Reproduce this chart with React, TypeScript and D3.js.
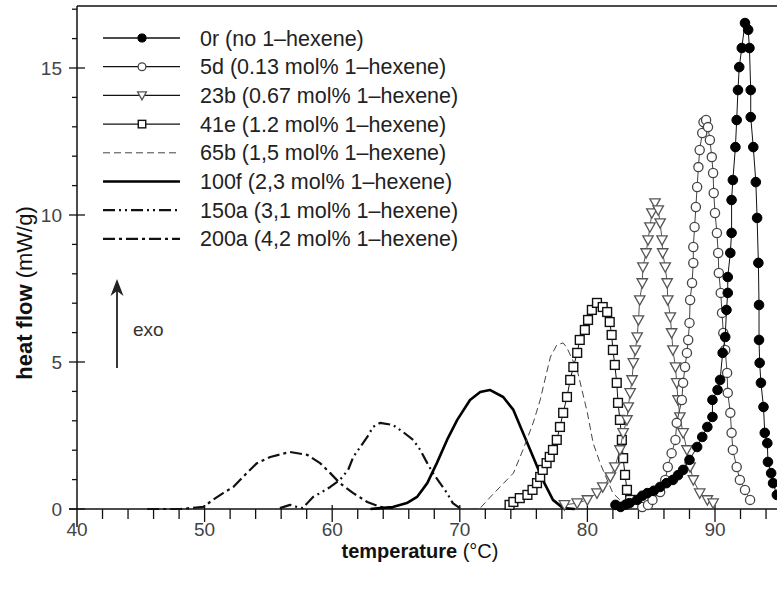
import { useEffect, useRef } from 'react';
import * as d3 from 'd3';

type Pt = [number, number];

// temperature (°C), heat flow (mW/g)
const s0r: Pt[] = [
  [82.2, 0.14], [82.6, 0.07], [83.0, 0.15], [83.3, 0.2], [83.9, 0.31], [84.3, 0.45], [84.7, 0.54],
  [85.2, 0.62], [85.7, 0.75], [86.2, 0.88], [86.7, 0.99], [87.1, 1.15], [87.5, 1.33], [88.0, 1.67],
  [88.6, 2.11], [89.0, 2.45], [89.4, 2.79], [89.8, 3.13], [89.8, 3.71], [90.2, 4.05], [90.4, 4.39],
  [90.6, 5.31], [90.8, 5.85], [90.9, 6.77], [91.0, 7.35], [91.0, 7.89], [91.2, 8.71], [91.3, 9.39],
  [91.3, 10.51], [91.4, 11.19], [91.6, 12.31], [91.7, 13.23], [91.8, 14.25], [91.9, 15.03],
  [92.1, 15.68], [92.35, 16.53], [92.6, 16.3], [92.7, 15.68], [92.8, 14.25], [92.8, 13.33],
  [93.0, 12.31], [93.2, 11.12], [93.3, 9.9], [93.4, 8.37], [93.45, 6.94], [93.45, 5.75],
  [93.5, 4.97], [93.6, 4.29], [93.8, 3.47], [93.9, 2.59], [94.1, 2.24], [94.15, 1.6],
  [94.4, 1.22], [94.55, 0.88], [94.85, 0.48],
];

const s5d: Pt[] = [
  [84.3, 0.07], [84.75, 0.14], [85.1, 0.31], [85.7, 0.58], [86.1, 0.99], [86.3, 1.43], [86.6, 1.9],
  [86.9, 2.35], [87.0, 2.93], [87.4, 3.71], [87.5, 4.29], [87.65, 4.83], [87.8, 5.31], [87.9, 5.75],
  [88.0, 6.33], [88.05, 7.11], [88.2, 7.69], [88.3, 8.37], [88.3, 8.91], [88.4, 9.59], [88.5, 10.27],
  [88.6, 10.95], [88.7, 11.63], [88.8, 12.21], [89.0, 12.79], [89.1, 13.16], [89.3, 13.23],
  [89.45, 12.99], [89.6, 12.55], [89.75, 11.97], [89.85, 11.43], [89.9, 10.75], [90.0, 10.07],
  [90.15, 9.39], [90.25, 8.71], [90.3, 8.03], [90.45, 7.35], [90.55, 6.67], [90.65, 5.99],
  [90.8, 5.41], [90.95, 4.63], [91.0, 3.95], [91.2, 3.27], [91.3, 2.59], [91.4, 2.01],
  [91.7, 1.43], [91.95, 0.99], [92.35, 0.65], [92.75, 0.31],
];

const s23b: Pt[] = [
  [78.2, 0.14], [79.2, 0.2], [80.0, 0.31], [80.75, 0.54], [81.2, 0.75], [81.8, 1.09], [82.15, 1.43],
  [82.55, 2.01], [82.8, 2.59], [83.1, 3.03], [83.2, 3.47], [83.35, 3.95], [83.5, 4.39], [83.6, 4.97],
  [83.75, 5.41], [83.9, 5.85], [84.0, 6.43], [84.1, 7.11], [84.3, 7.69], [84.35, 8.23], [84.6, 8.71],
  [84.75, 9.15], [84.9, 9.59], [85.05, 10.07], [85.3, 10.41], [85.55, 10.17], [85.7, 9.73],
  [85.85, 9.15], [85.9, 8.71], [86.1, 8.23], [86.25, 7.69], [86.3, 7.11], [86.5, 6.53],
  [86.6, 5.99], [86.7, 5.41], [86.9, 4.83], [87.0, 4.29], [87.1, 3.71], [87.25, 3.13],
  [87.5, 2.59], [87.8, 2.01], [88.05, 1.43], [88.3, 0.99], [88.8, 0.54], [89.4, 0.31], [89.85, 0.2],
];

const s41e: Pt[] = [
  [73.9, 0.14], [74.2, 0.24], [74.7, 0.37], [75.3, 0.48], [75.7, 0.65], [76.05, 0.88], [76.3, 1.09],
  [76.5, 1.33], [76.8, 1.56], [77.05, 1.77], [77.3, 2.01], [77.6, 2.35], [77.85, 2.79], [78.1, 3.27],
  [78.4, 3.81], [78.65, 4.39], [78.9, 4.83], [79.2, 5.31], [79.4, 5.75], [79.8, 6.09], [80.05, 6.43],
  [80.35, 6.77], [80.75, 7.01], [81.2, 6.87], [81.55, 6.7], [81.75, 6.36], [81.9, 5.92],
  [82.0, 5.41], [82.15, 4.9], [82.3, 4.29], [82.4, 3.61], [82.55, 3.03], [82.7, 2.35],
  [82.8, 1.73], [82.95, 1.16], [83.1, 0.65], [83.35, 0.31],
];

const s65b: Pt[] = [
  [70.8, 0.0], [71.6, 0.03], [72.4, 0.41], [73.15, 0.75], [74.2, 1.22], [74.95, 2.01], [75.75, 2.93],
  [76.3, 3.71], [76.8, 4.63], [77.1, 5.17], [77.6, 5.58], [78.1, 5.65], [78.4, 5.48], [79.2, 4.73],
  [80.0, 3.27], [80.45, 2.24], [81.0, 1.56], [81.55, 0.99], [82.0, 0.54], [82.8, 0.2], [83.6, 0.07],
];

const s100f: Pt[] = [
  [63.0, 0.0], [63.75, 0.03], [64.75, 0.07], [65.85, 0.2], [66.65, 0.41], [67.45, 0.88], [68.2, 1.56],
  [69.0, 2.35], [69.8, 3.03], [70.8, 3.71], [71.6, 3.98], [72.35, 4.05], [73.4, 3.81], [74.2, 3.37],
  [74.95, 2.59], [75.75, 1.77], [76.5, 0.99], [77.3, 0.31], [78.1, 0.03], [79.0, 0.0],
];

const s150a: Pt[] = [
  [55.9, 0.03], [56.7, 0.14], [57.25, 0.07], [57.7, 0.03], [58.05, 0.2], [58.5, 0.41], [59.05, 0.54],
  [59.85, 0.75], [60.6, 0.99], [61.25, 1.33], [61.65, 1.77], [62.2, 2.11], [62.75, 2.45], [63.2, 2.79],
  [63.75, 2.93], [64.75, 2.86], [65.55, 2.62], [66.35, 2.35], [66.9, 2.01], [67.45, 1.56],
  [67.9, 1.22], [68.45, 0.88], [69.0, 0.54], [69.45, 0.2], [70.0, 0.03],
];

const s200a: Pt[] = [
  [45.5, 0.0], [48.1, 0.0], [49.9, 0.07], [50.65, 0.31], [51.45, 0.54], [52.25, 0.75], [53.3, 1.22],
  [54.1, 1.56], [55.15, 1.77], [56.7, 1.94], [58.05, 1.84], [59.05, 1.56], [59.85, 1.22],
  [60.6, 0.88], [61.65, 0.54], [62.75, 0.24], [63.75, 0.07], [64.75, 0.03],
];

const legendLabels = [
  '0r (no 1–hexene)',
  '5d (0.13 mol% 1–hexene)',
  '23b (0.67 mol% 1–hexene)',
  '41e (1.2 mol% 1–hexene)',
  '65b (1,5 mol% 1–hexene)',
  '100f (2,3 mol% 1–hexene)',
  '150a (3,1 mol% 1–hexene)',
  '200a (4,2 mol% 1–hexene)',
];

const xTicks = [40, 50, 60, 70, 80, 90];
const yTicks = [0, 5, 10, 15];

type Style = {
  data: Pt[];
  stroke: string;
  width: number;
  dash?: string;
  marker?: 'filled' | 'circle' | 'triangle' | 'square';
  mstroke?: string;
};

const series: Style[] = [
  { data: s0r, stroke: '#111', width: 1, marker: 'filled', mstroke: '#000' },
  { data: s5d, stroke: '#444', width: 1, marker: 'circle', mstroke: '#444' },
  { data: s23b, stroke: '#555', width: 1, marker: 'triangle', mstroke: '#555' },
  { data: s41e, stroke: '#111', width: 1, marker: 'square', mstroke: '#111' },
  { data: s65b, stroke: '#444', width: 1, dash: '7,4' },
  { data: s100f, stroke: '#000', width: 2.6 },
  { data: s150a, stroke: '#111', width: 2.2, dash: '12,4,2,4,2,4' },
  { data: s200a, stroke: '#111', width: 2.2, dash: '12,4,3,4' },
];

const FONT = '"Liberation Sans", Arial, sans-serif';

function drawMarker(g: d3.Selection<SVGGElement, unknown, null, undefined>, kind: string, x: number, y: number, color: string, small = false) {
  const k = small ? 0.85 : 1;
  if (kind === 'filled') {
    g.append('circle').attr('cx', x).attr('cy', y).attr('r', 4.8 * k).attr('fill', '#000').attr('stroke', color);
  } else if (kind === 'circle') {
    g.append('circle').attr('cx', x).attr('cy', y).attr('r', 4.6 * k).attr('fill', '#fff').attr('stroke', color).attr('stroke-width', 1.3);
  } else if (kind === 'triangle') {
    const s = 5.2 * k;
    g.append('path')
      .attr('d', `M${x - s},${y - s * 0.8}L${x + s},${y - s * 0.8}L${x},${y + s}Z`)
      .attr('fill', '#fff').attr('stroke', color).attr('stroke-width', 1.3);
  } else if (kind === 'square') {
    const h = 4.4 * k;
    g.append('rect').attr('x', x - h).attr('y', y - h).attr('width', 2 * h).attr('height', 2 * h)
      .attr('fill', '#fff').attr('stroke', color).attr('stroke-width', 1.4);
  }
}

export default function App() {
  const ref = useRef<SVGSVGElement>(null);

  useEffect(() => {
    document.body.style.margin = '0';
    const svg = d3.select(ref.current);
    svg.selectAll('*').remove();

    const left = 77, top = 6, bottom = 509;
    const x = d3.scaleLinear().domain([40, 95]).range([left, left + 55 * 12.76]);
    const y = d3.scaleLinear().domain([0, (bottom - top) / 29.4]).range([bottom, top]);

    // frame
    svg.append('line').attr('x1', left).attr('x2', 777).attr('y1', top).attr('y2', top).attr('stroke', '#111').attr('stroke-width', 1.5);
    svg.append('line').attr('x1', left).attr('x2', left).attr('y1', top).attr('y2', 527).attr('stroke', '#111').attr('stroke-width', 1.5);
    svg.append('line').attr('x1', 69).attr('x2', 777).attr('y1', bottom).attr('y2', bottom).attr('stroke', '#111').attr('stroke-width', 1.5);

    // x ticks
    d3.range(40, 96, 2).forEach(t => {
      const major = t % 10 === 0;
      if (t === 40) return;
      svg.append('line').attr('x1', x(t)).attr('x2', x(t))
        .attr('y1', major ? bottom - 4 : bottom).attr('y2', major ? bottom + 13 : bottom + 10)
        .attr('stroke', '#111').attr('stroke-width', 1.3);
    });
    xTicks.forEach(t => {
      svg.append('text').attr('x', x(t)).attr('y', 536).attr('text-anchor', 'middle')
        .attr('font-family', FONT).attr('font-size', 19).attr('fill', '#444').text(t);
    });

    // y ticks
    d3.range(0, 18, 1).forEach(v => {
      const major = v % 5 === 0;
      if (y(v) < top) return;
      svg.append('line').attr('x1', major ? left - 8 : left - 5).attr('x2', major ? left + 8 : left)
        .attr('y1', y(v)).attr('y2', y(v)).attr('stroke', '#111').attr('stroke-width', 1.3);
    });
    yTicks.forEach(v => {
      svg.append('text').attr('x', 62).attr('y', y(v) + 7).attr('text-anchor', 'end')
        .attr('font-family', FONT).attr('font-size', 19).attr('fill', '#444').text(v);
    });

    // axis titles
    const xt = svg.append('text').attr('x', 420).attr('y', 558).attr('text-anchor', 'middle')
      .attr('font-family', FONT).attr('font-size', 20).attr('fill', '#111');
    xt.append('tspan').attr('font-weight', 'bold').text('temperature');
    xt.append('tspan').text(' (°C)');

    const yt = svg.append('text').attr('transform', 'translate(32,293) rotate(-90)').attr('text-anchor', 'middle')
      .attr('font-family', FONT).attr('font-size', 22).attr('fill', '#111');
    yt.append('tspan').attr('font-weight', 'bold').text('heat flow');
    yt.append('tspan').text(' (mW/g)');

    // exo arrow
    svg.append('line').attr('x1', 117).attr('x2', 117).attr('y1', 368).attr('y2', 290).attr('stroke', '#222').attr('stroke-width', 1.8);
    svg.append('path').attr('d', 'M117,279L110.5,296L117,291L123.5,296Z').attr('fill', '#222');
    svg.append('text').attr('x', 133).attr('y', 336).attr('font-family', FONT).attr('font-size', 19)
      .attr('fill', '#333').text('exo');

    const plot = svg.append('g');
    const line = d3.line<Pt>().x(d => x(d[0])).y(d => y(d[1]));

    // draw in reverse so the narrow high peaks sit on top
    [...series].reverse().forEach(s => {
      const p = plot.append('path').datum(s.data).attr('d', line)
        .attr('fill', 'none').attr('stroke', s.stroke).attr('stroke-width', s.width)
        .attr('stroke-linejoin', 'round');
      if (s.dash) p.attr('stroke-dasharray', s.dash);
      if (s.marker) {
        const mg = plot.append('g');
        s.data.forEach(d => drawMarker(mg, s.marker!, x(d[0]), y(d[1]), s.mstroke!));
      }
    });

    // legend
    const lg = svg.append('g');
    legendLabels.forEach((label, i) => {
      const s = series[i];
      const cy = 38 + i * 28.7;
      const l = lg.append('line').attr('x1', 103).attr('x2', 180).attr('y1', cy).attr('y2', cy)
        .attr('stroke', s.marker ? '#111' : s.stroke).attr('stroke-width', s.marker ? 1.3 : s.width);
      if (s.dash) l.attr('stroke-dasharray', s.dash);
      if (s.marker) drawMarker(lg, s.marker, 142, cy, s.mstroke!, true);
      lg.append('text').attr('x', 200).attr('y', cy + 7.5).attr('font-family', FONT).attr('font-size', 21.5)
        .attr('fill', '#222').text(label);
    });
  }, []);

  return <svg ref={ref} width={777} height={589} style={{ display: 'block', background: '#fff' }} />;
}
